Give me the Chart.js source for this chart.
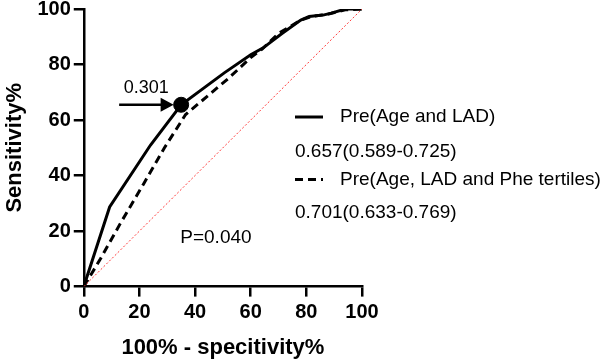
<!DOCTYPE html>
<html>
<head>
<meta charset="utf-8">
<script src="https://cdn.jsdelivr.net/npm/chart.js@4.4.1/dist/chart.umd.min.js"></script>
<style>
  html, body { margin: 0; padding: 0; background: #fff; }
  #wrap { position: relative; width: 603px; height: 360px; overflow: hidden; }
  #inner { position: absolute; left: 0; top: -6px; width: 603px; height: 367px; }
</style>
</head>
<body>
<div id="wrap"><div id="inner"><canvas id="rocChart"></canvas></div></div>
<script>
// ROC curve data (x = 100% - specificity, y = sensitivity)
const ageLadX = [0, 9.3, 24, 35, 50.5, 60, 64.5, 71, 78, 81, 86, 89, 94, 100];
const ageLadY = [0, 28.7, 51, 65.5, 77, 83.5, 86, 91, 96, 97.3, 97.8, 98.5, 100, 100];
const ageLadPheX = [0, 6, 13, 21.5, 29, 36.6, 41, 52, 60, 64, 70, 78, 82, 88, 94, 100];
const ageLadPheY = [0, 10, 22.5, 37, 50, 62, 65.7, 75, 82.5, 85.5, 91.2, 96, 97.3, 98.2, 99.7, 100];
const cutoffPoint = { x: 35, y: 65.5 };
const cutoffLabel = '0.301';
const pValueLabel = 'P=0.040';
const legendNames = ['Pre(Age and LAD)', 'Pre(Age, LAD and Phe tertiles)'];
const legendAuc = ['0.657(0.589-0.725)', '0.701(0.633-0.769)'];
const xTicks = [0, 20, 40, 60, 80, 100];
const yTicks = [0, 20, 40, 60, 80, 100];

const toPoints = (xs, ys) => xs.map((x, i) => ({ x: x, y: ys[i] }));
const FONT = "'Liberation Sans', Arial, sans-serif";
const SHIFT = 6; // canvas is moved up by this much inside #wrap

// draws arrow + cutoff label, P value and the text legend on the right
const annotatePlugin = {
    id: 'annotate',
    afterDatasetsDraw(chart) {
        const ctx = chart.ctx;
        const xs = chart.scales.x, ys = chart.scales.y;
        const px = xs.getPixelForValue(cutoffPoint.x), py = ys.getPixelForValue(cutoffPoint.y);
        ctx.save();
        ctx.fillStyle = '#000'; ctx.strokeStyle = '#000';

        // arrow pointing at the cutoff
        const tip = px - 7.5, start = px - 62;
        ctx.lineWidth = 2.5;
        ctx.beginPath(); ctx.moveTo(start, py); ctx.lineTo(tip - 11, py); ctx.stroke();
        ctx.beginPath(); ctx.moveTo(tip, py); ctx.lineTo(tip - 13, py - 7); ctx.lineTo(tip - 13, py + 7); ctx.closePath(); ctx.fill();

        ctx.font = '18px ' + FONT;
        ctx.textAlign = 'center'; ctx.textBaseline = 'middle';
        ctx.fillText(cutoffLabel, px - 35, py - 17);

        ctx.font = '19px ' + FONT;
        ctx.fillText(pValueLabel, xs.getPixelForValue(47.5), ys.getPixelForValue(17.5));

        // legend
        const lx = 295, rows = [117, 152, 179.5, 213].map(r => r + SHIFT);
        ctx.textAlign = 'left';
        ctx.lineWidth = 3;
        ctx.beginPath(); ctx.moveTo(lx, rows[0]); ctx.lineTo(lx + 28, rows[0]); ctx.stroke();
        ctx.setLineDash([8, 5]);
        ctx.beginPath(); ctx.moveTo(lx, rows[2]); ctx.lineTo(lx + 28, rows[2]); ctx.stroke();
        ctx.setLineDash([]);
        ctx.fillText(legendNames[0], lx + 45, rows[0]);
        ctx.fillText(legendAuc[0], lx, rows[1]);
        ctx.fillText(legendNames[1], lx + 45, rows[2]);
        ctx.fillText(legendAuc[1], lx, rows[3]);
        ctx.restore();
    }
};

const axisCommon = {
    type: 'linear', min: 0, max: 100,
    grid: { display: true, drawOnChartArea: false, drawTicks: true, tickLength: 10, color: '#000', lineWidth: 2.5 },
    border: { display: true, color: '#000', width: 2.5 },
    ticks: { color: '#000', padding: 3, font: { family: FONT, size: 20, weight: 'bold' } }
};

new Chart(document.getElementById('rocChart'), {
    type: 'scatter',
    data: {
        datasets: [
            { label: 'reference', data: toPoints([0, 100], [0, 100]), showLine: true, borderColor: '#ff3b3b', borderWidth: 1, borderDash: [2, 2], pointRadius: 0 },
            { label: legendNames[1], data: toPoints(ageLadPheX, ageLadPheY), showLine: true, borderColor: '#000', borderWidth: 3, borderDash: [8, 5], pointRadius: 0, tension: 0 },
            { label: legendNames[0], data: toPoints(ageLadX, ageLadY), showLine: true, borderColor: '#000', borderWidth: 3, pointRadius: 0, tension: 0 },
            { label: 'cutoff', data: [cutoffPoint], pointRadius: 7.5, pointBackgroundColor: '#000', pointBorderColor: '#000' }
        ]
    },
    options: {
        responsive: true, maintainAspectRatio: false, animation: false,
        layout: { padding: { left: 2, right: 241, top: 0, bottom: 0 } },
        plugins: { legend: { display: false }, tooltip: { enabled: false } },
        scales: {
            x: Object.assign({}, axisCommon, {
                ticks: { color: '#000', padding: 4, font: { family: FONT, size: 20, weight: 'bold' } },
                afterBuildTicks: (s) => { s.ticks = xTicks.map(v => ({ value: v })); },
                title: { display: true, text: '100% - specitivity%', color: '#000', padding: { top: 6, bottom: 0 }, font: { family: FONT, size: 22, weight: 'bold' } }
            }),
            y: Object.assign({}, axisCommon, {
                afterBuildTicks: (s) => { s.ticks = yTicks.map(v => ({ value: v })); },
                title: { display: true, text: 'Sensitivity%', color: '#000', padding: { top: 0, bottom: 6 }, font: { family: FONT, size: 22, weight: 'bold' } }
            })
        }
    },
    plugins: [annotatePlugin]
});
</script>
</body>
</html>
